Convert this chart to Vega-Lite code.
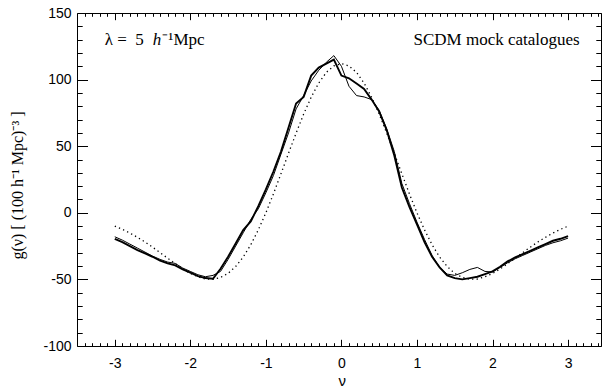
{
  "$schema": "https://vega.github.io/schema/vega-lite/v6.json",
  "autosize": {"type": "none"},
  "width": 524,
  "height": 333,
  "padding": {"left": 77, "top": 13, "right": 4, "bottom": 42},
  "background": "white",
  "config": {"view": {"stroke": null}},
  "datasets": {
    "curves": [
    {"nu": -3.0, "a": -19.5, "b": -18, "c": -10.0},
    {"nu": -2.9, "a": -22, "b": -20.5, "c": -12.4},
    {"nu": -2.8, "a": -25, "b": -23.5, "c": -15.2},
    {"nu": -2.7, "a": -28, "b": -26.5, "c": -18.4},
    {"nu": -2.6, "a": -30.5, "b": -29.5, "c": -21.9},
    {"nu": -2.5, "a": -33, "b": -32.5, "c": -25.8},
    {"nu": -2.4, "a": -36, "b": -35, "c": -29.9},
    {"nu": -2.3, "a": -38, "b": -37, "c": -34.1},
    {"nu": -2.2, "a": -39.5, "b": -38, "c": -38.2},
    {"nu": -2.1, "a": -42.5, "b": -41.5, "c": -42.1},
    {"nu": -2.0, "a": -45, "b": -44, "c": -45.5},
    {"nu": -1.9, "a": -47.5, "b": -46.5, "c": -48.0},
    {"nu": -1.8, "a": -49, "b": -48, "c": -49.7},
    {"nu": -1.7, "a": -49.5, "b": -47, "c": -49.9},
    {"nu": -1.6, "a": -42, "b": -44, "c": -48.5},
    {"nu": -1.5, "a": -33, "b": -35, "c": -45.5},
    {"nu": -1.4, "a": -23, "b": -25, "c": -40.3},
    {"nu": -1.3, "a": -13, "b": -15, "c": -33.2},
    {"nu": -1.2, "a": -6.5, "b": -5, "c": -24.0},
    {"nu": -1.1, "a": 5, "b": 3, "c": -12.8},
    {"nu": -1.0, "a": 17.5, "b": 15, "c": 0},
    {"nu": -0.9, "a": 31, "b": 28, "c": 14.2},
    {"nu": -0.8, "a": 46, "b": 44, "c": 29.3},
    {"nu": -0.7, "a": 64, "b": 60, "c": 44.7},
    {"nu": -0.6, "a": 82, "b": 78, "c": 59.8},
    {"nu": -0.5, "a": 87, "b": 88, "c": 74.1},
    {"nu": -0.4, "a": 103, "b": 99, "c": 86.8},
    {"nu": -0.3, "a": 109, "b": 107, "c": 97.4},
    {"nu": -0.2, "a": 112, "b": 113, "c": 105.4},
    {"nu": -0.1, "a": 115, "b": 118, "c": 110.3},
    {"nu": 0.0, "a": 103, "b": 110, "c": 112},
    {"nu": 0.1, "a": 101, "b": 95, "c": 110.3},
    {"nu": 0.2, "a": 97, "b": 88, "c": 105.4},
    {"nu": 0.3, "a": 93, "b": 87, "c": 97.4},
    {"nu": 0.4, "a": 85, "b": 85, "c": 86.8},
    {"nu": 0.5, "a": 76, "b": 77, "c": 74.1},
    {"nu": 0.6, "a": 62, "b": 63, "c": 59.8},
    {"nu": 0.7, "a": 43, "b": 46, "c": 44.7},
    {"nu": 0.8, "a": 19, "b": 22, "c": 29.3},
    {"nu": 0.9, "a": 4.5, "b": 7, "c": 14.2},
    {"nu": 1.0, "a": -8.6, "b": -7, "c": 0},
    {"nu": 1.1, "a": -22, "b": -20, "c": -12.8},
    {"nu": 1.2, "a": -33, "b": -32, "c": -24.0},
    {"nu": 1.3, "a": -41, "b": -41, "c": -33.2},
    {"nu": 1.4, "a": -47, "b": -46, "c": -40.3},
    {"nu": 1.5, "a": -49, "b": -47, "c": -45.5},
    {"nu": 1.6, "a": -50, "b": -45, "c": -48.5},
    {"nu": 1.7, "a": -49, "b": -42.5, "c": -49.9},
    {"nu": 1.8, "a": -48, "b": -41, "c": -49.7},
    {"nu": 1.9, "a": -46, "b": -44, "c": -48.0},
    {"nu": 2.0, "a": -44, "b": -44.5, "c": -45.5},
    {"nu": 2.1, "a": -40.5, "b": -41, "c": -42.1},
    {"nu": 2.2, "a": -36.5, "b": -37.5, "c": -38.2},
    {"nu": 2.3, "a": -33.5, "b": -34.5, "c": -34.1},
    {"nu": 2.4, "a": -31, "b": -32, "c": -29.9},
    {"nu": 2.5, "a": -28.5, "b": -29.5, "c": -25.8},
    {"nu": 2.6, "a": -26, "b": -27, "c": -21.9},
    {"nu": 2.7, "a": -23.5, "b": -24.5, "c": -18.4},
    {"nu": 2.8, "a": -21, "b": -22.5, "c": -15.2},
    {"nu": 2.9, "a": -19.5, "b": -21, "c": -12.4},
    {"nu": 3.0, "a": -17.5, "b": -19, "c": -10.0}
    ],
    "notes": [
      {"nu": -3.133, "g": 125.8, "label": "λ =\u00a0\u00a05", "piece": "p1"},
      {"nu": -2.498, "g": 125.8, "label": "h", "piece": "p2"},
      {"nu": -2.37, "g": 125.8, "label": "⁻¹Mpc", "piece": "p3"},
      {"nu": 3.154, "g": 125.8, "label": "SCDM mock catalogues", "piece": "p4"}
    ]
  },
  "data": {"name": "curves"},
  "layer": [
    {
      "encoding": {
        "x": {"field": "nu", "type": "quantitative", "scale": {"domain": [-3.5, 3.436], "nice": false, "zero": false},
          "axis": {"orient": "bottom", "gridOpacity": 0, "domainColor": "black", "domainWidth": 1, "tickSize": -6.7, "tickColor": "black", "tickWidth": 1,
            "labelPadding": 16.7, "labelFont": "Liberation Sans", "labelFontSize": 14, "labelColor": "black",
            "values": [-3, -2, -1, 0, 1, 2, 3], "labelExpr": "'' + round(datum.value)",
            "title": "ν", "titleFont": "Liberation Sans", "titleFontSize": 15, "titleFontWeight": "normal", "titleColor": "black", "titleX": 264.7, "titleY": 39.5, "titleBaseline": "alphabetic", "titleAlign": "center"}},
        "y": {"type": "quantitative", "scale": {"domain": [-100, 150], "nice": false, "zero": false},
          "axis": {"orient": "left", "gridOpacity": 0, "domainColor": "black", "domainWidth": 1, "tickSize": -10.5, "tickColor": "black", "tickWidth": 1,
            "labelPadding": 16.5, "labelFont": "Liberation Sans", "labelFontSize": 14, "labelColor": "black",
            "values": [-100, -50, 0, 50, 100, 150], "labelExpr": "'' + datum.value",
            "title": "g(ν) [ (100 h⁻¹ Mpc)⁻³ ]", "titleFont": "Liberation Serif", "titleFontSize": 16, "titleFontWeight": "normal", "titleColor": "black", "titleAngle": -90, "titleX": -55, "titleY": 172, "titleBaseline": "alphabetic", "titleAlign": "center"}}
      },
      "layer": [
        {"mark": {"type": "line", "color": "#000", "strokeWidth": 1.9}, "encoding": {"y": {"field": "a"}}},
        {"mark": {"type": "line", "color": "#000", "strokeWidth": 1}, "encoding": {"y": {"field": "b"}}},
        {"mark": {"type": "line", "color": "#000", "strokeWidth": 1.3, "strokeDash": [1.3, 3.2]}, "encoding": {"y": {"field": "c"}}}
      ]
    },
    {
      "mark": {"type": "point", "opacity": 0},
      "encoding": {
        "x": {"field": "nu", "type": "quantitative",
          "axis": {"orient": "bottom", "gridOpacity": 0, "title": "", "labels": false, "domain": false, "tickSize": -3.3, "tickColor": "black", "tickWidth": 1,
            "values": [-3.4,-3.3,-3.2,-3.1,-2.9,-2.8,-2.7,-2.6,-2.5,-2.4,-2.3,-2.2,-2.1,-1.9,-1.8,-1.7,-1.6,-1.5,-1.4,-1.3,-1.2,-1.1,-0.9,-0.8,-0.7,-0.6,-0.5,-0.4,-0.3,-0.2,-0.1,0.1,0.2,0.3,0.4,0.5,0.6,0.7,0.8,0.9,1.1,1.2,1.3,1.4,1.5,1.6,1.7,1.8,1.9,2.1,2.2,2.3,2.4,2.5,2.6,2.7,2.8,2.9,3.1,3.2,3.3,3.4]}},
        "y": {"field": "c", "type": "quantitative",
          "axis": {"orient": "left", "gridOpacity": 0, "title": "", "labels": false, "domain": false, "tickSize": -5.2, "tickColor": "black", "tickWidth": 1,
            "values": [-90,-80,-70,-60,-40,-30,-20,-10,10,20,30,40,60,70,80,90,110,120,130,140]}}
      }
    },
    {
      "mark": {"type": "point", "opacity": 0},
      "encoding": {
        "x": {"field": "nu", "type": "quantitative",
          "axis": {"orient": "top", "gridOpacity": 0, "title": "", "labels": false, "domainColor": "black", "domainWidth": 1, "tickSize": -6.7, "tickColor": "black", "tickWidth": 1, "values": [-3, -2, -1, 0, 1, 2, 3]}},
        "y": {"field": "c", "type": "quantitative",
          "axis": {"orient": "right", "gridOpacity": 0, "title": "", "labels": false, "domainColor": "black", "domainWidth": 1, "tickSize": -10.5, "tickColor": "black", "tickWidth": 1, "values": [-100, -50, 0, 50, 100, 150]}}
      }
    },
    {
      "mark": {"type": "point", "opacity": 0},
      "encoding": {
        "x": {"field": "nu", "type": "quantitative",
          "axis": {"orient": "top", "gridOpacity": 0, "title": "", "labels": false, "domain": false, "tickSize": -3.3, "tickColor": "black", "tickWidth": 1,
            "values": [-3.4,-3.3,-3.2,-3.1,-2.9,-2.8,-2.7,-2.6,-2.5,-2.4,-2.3,-2.2,-2.1,-1.9,-1.8,-1.7,-1.6,-1.5,-1.4,-1.3,-1.2,-1.1,-0.9,-0.8,-0.7,-0.6,-0.5,-0.4,-0.3,-0.2,-0.1,0.1,0.2,0.3,0.4,0.5,0.6,0.7,0.8,0.9,1.1,1.2,1.3,1.4,1.5,1.6,1.7,1.8,1.9,2.1,2.2,2.3,2.4,2.5,2.6,2.7,2.8,2.9,3.1,3.2,3.3,3.4]}},
        "y": {"field": "c", "type": "quantitative",
          "axis": {"orient": "right", "gridOpacity": 0, "title": "", "labels": false, "domain": false, "tickSize": -5.2, "tickColor": "black", "tickWidth": 1,
            "values": [-90,-80,-70,-60,-40,-30,-20,-10,10,20,30,40,60,70,80,90,110,120,130,140]}}
      }
    },
    {
      "data": {"name": "notes"},
      "transform": [{"filter": "datum.piece == 'p1' || datum.piece == 'p3'"}],
      "mark": {"type": "text", "align": "left", "baseline": "alphabetic", "font": "Liberation Serif", "fontSize": 17, "color": "#000"},
      "encoding": {
        "x": {"field": "nu", "type": "quantitative", "axis": null},
        "y": {"field": "g", "type": "quantitative", "axis": null},
        "text": {"field": "label"}
      }
    },
    {
      "data": {"name": "notes"},
      "transform": [{"filter": "datum.piece == 'p2'"}],
      "mark": {"type": "text", "align": "left", "baseline": "alphabetic", "font": "Liberation Serif", "fontSize": 17, "fontStyle": "italic", "color": "#000"},
      "encoding": {
        "x": {"field": "nu", "type": "quantitative", "axis": null},
        "y": {"field": "g", "type": "quantitative", "axis": null},
        "text": {"field": "label"}
      }
    },
    {
      "data": {"name": "notes"},
      "transform": [{"filter": "datum.piece == 'p4'"}],
      "mark": {"type": "text", "align": "right", "baseline": "alphabetic", "font": "Liberation Serif", "fontSize": 17, "color": "#000"},
      "encoding": {
        "x": {"field": "nu", "type": "quantitative", "axis": null},
        "y": {"field": "g", "type": "quantitative", "axis": null},
        "text": {"field": "label"}
      }
    }
  ],
  "resolve": {"axis": {"x": "independent", "y": "independent"}}
}
